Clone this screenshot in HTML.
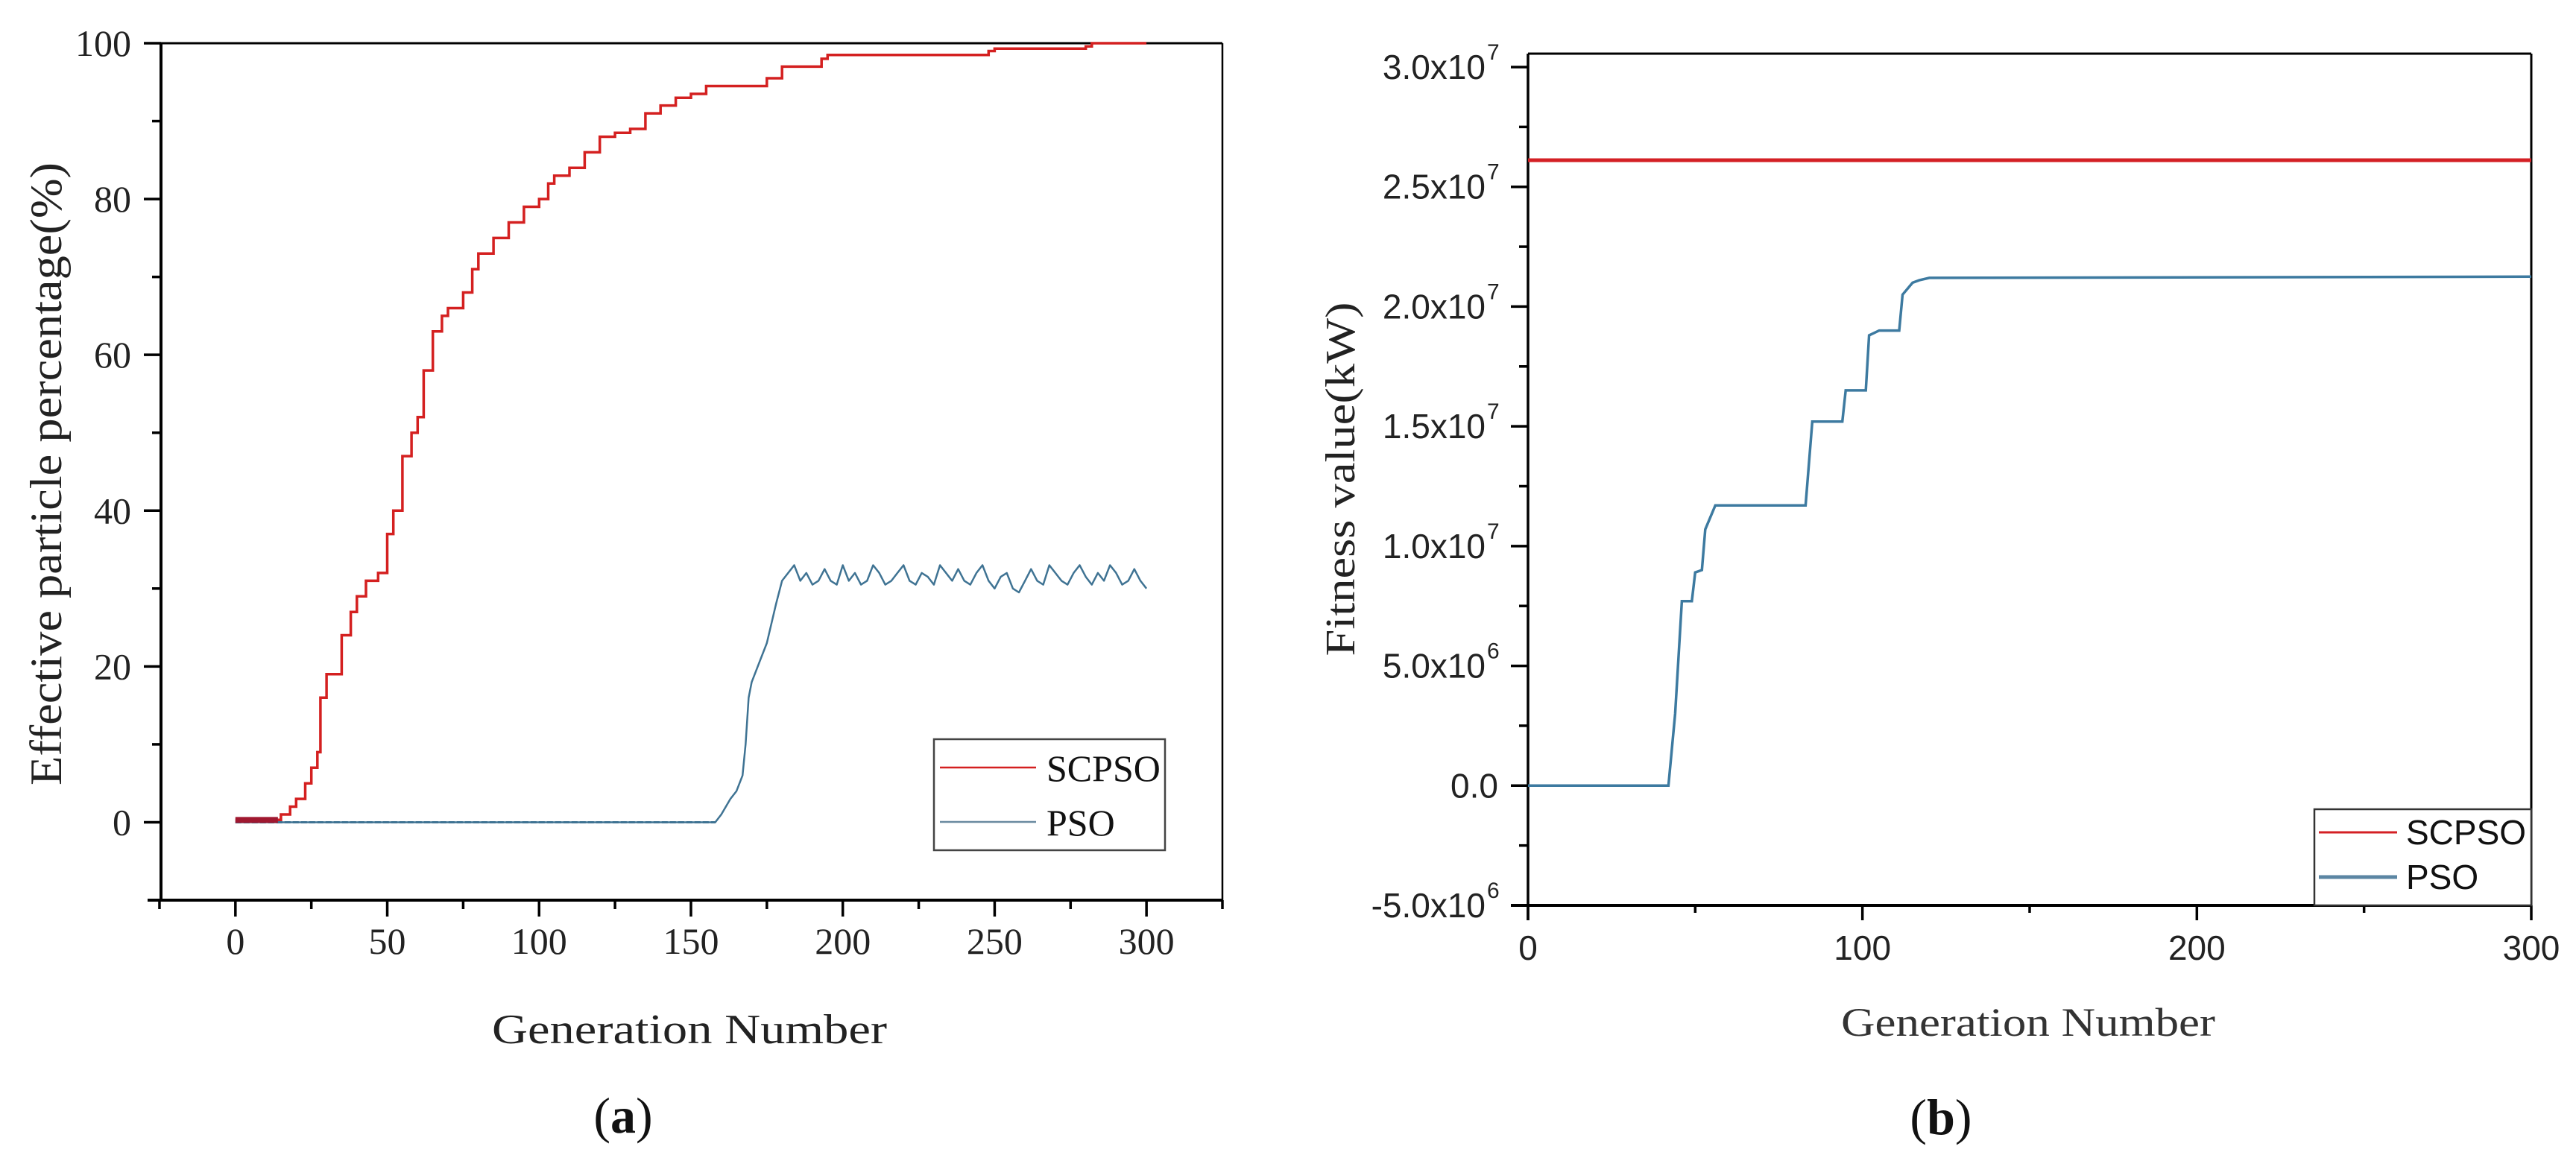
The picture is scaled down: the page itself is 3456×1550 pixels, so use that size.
<!DOCTYPE html>
<html><head><meta charset="utf-8"><style>
html,body{margin:0;padding:0;background:#fff;width:3456px;height:1550px;overflow:hidden}
svg{display:block}
.serif{font-family:"Liberation Serif",serif}
.sans{font-family:"Liberation Sans",sans-serif}
</style></head><body>
<svg id="fig" width="3456" height="1550" viewBox="0 0 3456 1550" xmlns="http://www.w3.org/2000/svg">
<g id="pa"></g>
<g id="pb"></g>
</svg>
<script>
// ---- Panel (a) data ----
const aTicksX = [0,50,100,150,200,250,300];
const aTicksY = [0,20,40,60,80,100];
const scGen = [0,14,15,18,20,23,25,27,28,30,33,35,38,40,43,45,47,50,52,55,58,60,62,65,68,70,75,78,80,85,90,95,100,103,105,110,115,120,125,130,135,140,145,150,155,170,175,180,188,193,195,240,248,250,280,282,300];
const scVal = [0.3,0.3,1,2,3,5,7,9,16,19,19,24,27,29,31,31,32,37,40,47,50,52,58,63,65,66,68,71,73,75,77,79,80,82,83,84,86,88,88.5,89,91,92,93,93.5,94.5,94.5,95.5,97,97,98,98.5,98.5,99,99.3,99.6,100,100];
const psoAGen = [0,158,160,163,165,167,168,169,170,172,175,178,180,182,184,186,188,190,192,194,196,198,200,202,204,206,208,210,212,214,216,218,220,222,224,226,228,230,232,234,236,238,240,242,244,246,248,250,252,254,256,258,260,262,264,266,268,270,272,274,276,278,280,282,284,286,288,290,292,294,296,298,300];
const psoAVal = [0,0,1,3,4,6,10,16,18,20,23,28,31,32,33,31,32,30.5,31,32.5,31,30.5,33,31,32,30.5,31,33,32,30.5,31,32,33,31,30.5,32,31.5,30.5,33,32,31,32.5,31,30.5,32,33,31,30,31.5,32,30,29.5,31,32.5,31,30.5,33,32,31,30.5,32,33,31.5,30.5,32,31,33,32,30.5,31,32.5,31,30];
// ---- Panel (b) data ----
const bTicksX = [0,100,200,300];
const bTicksY = [-5e6,0,5e6,1e7,1.5e7,2e7,2.5e7,3e7];
const bTickLabels = ["-5.0x10|6","0.0","5.0x10|6","1.0x10|7","1.5x10|7","2.0x10|7","2.5x10|7","3.0x10|7"];
const scBGen = [0,300];
const scBVal = [2.611e7,2.611e7];
const psoBGen = [0,42,44,46,49,50,52,53,56,83,85,94,95,101,102,105,111,112,115,117,120,300];
const psoBVal = [0,0,3e6,7.7e6,7.7e6,8.9e6,9e6,10.7e6,11.7e6,11.7e6,15.2e6,15.2e6,16.5e6,16.5e6,18.8e6,19e6,19e6,20.5e6,21e6,21.1e6,21.2e6,21.25e6];

const NS="http://www.w3.org/2000/svg";
function mk(parent,tag,attrs,text){const e=document.createElementNS(NS,tag);for(const k in attrs)e.setAttribute(k,attrs[k]);if(text!==undefined)e.textContent=text;parent.appendChild(e);return e;}

// ---------- Panel A ----------
(function(){
const g=document.getElementById('pa');
const L=216,R=1640,T=58,B=1208;
const xMin=-24.5,xMax=325,yMin=-10,yMax=100;
const xs=v=>L+(v-xMin)/(xMax-xMin)*(R-L);
const ys=v=>B-(v-yMin)/(yMax-yMin)*(B-T);
let e=mk(g,'line',{x1:L,y1:T,x2:R,y2:T,stroke:'#000','stroke-width':3});

e=mk(g,'line',{x1:R,y1:T,x2:R,y2:B,stroke:'#000','stroke-width':2.5});

e=mk(g,'line',{x1:L,y1:T,x2:L,y2:B,stroke:'#000','stroke-width':4});

e=mk(g,'line',{x1:L-18,y1:B,x2:R,y2:B,stroke:'#000','stroke-width':4});

for(let v=-10;v<=100;v+=10){
  const major=aTicksY.includes(v);
  e=mk(g,'line',{x1:L-(major?23:12),y1:ys(v),x2:L,y2:ys(v),stroke:'#000','stroke-width':3.5});
  
}
aTicksY.forEach(v=>{
  e=mk(g,'text',{x:176,y:ys(v)+17,'text-anchor':'end','font-size':50,class:'serif',fill:'#222'},String(v));
  
});
for(let v=-25;v<=325;v+=25){
  const major=aTicksX.includes(v);
  e=mk(g,'line',{x1:xs(v),y1:B,x2:xs(v),y2:B+(major?22:12),stroke:'#000','stroke-width':3.5});
  
}
aTicksX.forEach(v=>{
  e=mk(g,'text',{x:xs(v),y:1280,'text-anchor':'middle','font-size':50,class:'serif',fill:'#222'},String(v));
  
});
const ptsP=psoAGen.map((x,i)=>xs(x).toFixed(1)+','+ys(psoAVal[i]).toFixed(1)).join(' ');
e=mk(g,'polyline',{points:ptsP,fill:'none',stroke:'#3f7393','stroke-width':2.5,'stroke-linejoin':'round'});

e=mk(g,'polyline',{points:psoAGen.slice(0,2).map((x,i)=>xs(x)+','+ys(psoAVal[i])).join(' '),fill:'none',stroke:'#3f7393','stroke-width':3,'stroke-dasharray':'8 3'});

let pts='';
for(let i=0;i<scGen.length;i++){
  if(i>0)pts+=' '+xs(scGen[i]).toFixed(1)+','+ys(scVal[i-1]).toFixed(1);
  pts+=' '+xs(scGen[i]).toFixed(1)+','+ys(scVal[i]).toFixed(1);
}
e=mk(g,'polyline',{points:pts.trim(),fill:'none',stroke:'#d42020','stroke-width':3.5});

e=mk(g,'line',{x1:xs(0),y1:ys(scVal[0]),x2:xs(14),y2:ys(scVal[0]),stroke:'#a01830','stroke-width':8});

const lg=mk(g,'g',{});

mk(lg,'rect',{x:1253,y:992,width:310,height:149,fill:'#fff',stroke:'#444','stroke-width':2.5});
e=mk(lg,'line',{x1:1261,y1:1030,x2:1390,y2:1030,stroke:'#d42020','stroke-width':2.5});

e=mk(lg,'text',{x:1404,y:1048,'font-size':50,class:'serif',fill:'#111'},'SCPSO');

e=mk(lg,'line',{x1:1261,y1:1103,x2:1390,y2:1103,stroke:'#6a8aa0','stroke-width':2.5});

e=mk(lg,'text',{x:1404,y:1121,'font-size':50,class:'serif',fill:'#111'},'PSO');

e=mk(g,'text',{x:925,y:1400,'text-anchor':'middle','font-size':56,class:'serif',fill:'#222',textLength:530,lengthAdjust:'spacingAndGlyphs'},'Generation Number');

e=mk(g,'text',{x:0,y:0,'text-anchor':'middle','font-size':60,class:'serif',fill:'#222',transform:'translate(82,636) rotate(-90)',textLength:836,lengthAdjust:'spacingAndGlyphs'},'Effective particle percentage(%)');

e=mk(g,'text',{x:836,y:1520,'text-anchor':'middle','font-size':68,class:'serif',fill:'#111'},'');

mk(e,'tspan',{},'(');mk(e,'tspan',{'font-weight':'bold'},'a');mk(e,'tspan',{},')');
})();

// ---------- Panel B ----------
(function(){
const g=document.getElementById('pb');
const L=2050,R=3396,T=72,B=1215;
const xMin=0,xMax=300,yMin=-5e6,yMax=3.056e7;
const xs=v=>L+(v-xMin)/(xMax-xMin)*(R-L);
const ys=v=>B-(v-yMin)/(yMax-yMin)*(B-T);
let e=mk(g,'line',{x1:L,y1:T,x2:R,y2:T,stroke:'#000','stroke-width':3});

e=mk(g,'line',{x1:R,y1:T,x2:R,y2:B,stroke:'#000','stroke-width':3});

e=mk(g,'line',{x1:L,y1:T,x2:L,y2:B+20,stroke:'#000','stroke-width':3.5});

e=mk(g,'line',{x1:L-23,y1:B,x2:R,y2:B,stroke:'#000','stroke-width':4});

for(let v=-5e6;v<=3e7+1;v+=2.5e6){
  const major=Math.abs(v/5e6-Math.round(v/5e6))<1e-6;
  e=mk(g,'line',{x1:L-(major?23:12),y1:ys(v),x2:L,y2:ys(v),stroke:'#000','stroke-width':3.5});
  
}
bTicksY.forEach((v,i)=>{
  const parts=bTickLabels[i].split('|');
  e=mk(g,'text',{x:parts.length>1?1993:2010,y:ys(v)+16,'text-anchor':'end','font-size':46,class:'sans',fill:'#222'},parts[0]);
  
  if(parts.length>1){
    e=mk(g,'text',{x:1995,y:ys(v)-10,'font-size':30,class:'sans',fill:'#222'},parts[1]);
    
  }
});
for(let v=0;v<=300;v+=50){
  const major=bTicksX.includes(v);
  e=mk(g,'line',{x1:xs(v),y1:B,x2:xs(v),y2:B+(major?20:10),stroke:'#000','stroke-width':3.5});
  
}
bTicksX.forEach(v=>{
  e=mk(g,'text',{x:xs(v),y:1288,'text-anchor':'middle','font-size':46,class:'sans',fill:'#222'},String(v));
  
});
let pts='';
for(let i=0;i<psoBGen.length;i++)pts+=' '+xs(psoBGen[i]).toFixed(1)+','+ys(psoBVal[i]).toFixed(1);
e=mk(g,'polyline',{points:pts.trim(),fill:'none',stroke:'#3d7aa0','stroke-width':3.5});

e=mk(g,'polyline',{points:scBGen.map((x,i)=>xs(x)+','+ys(scBVal[i])).join(' '),fill:'none',stroke:'#d42025','stroke-width':5});

const lg=mk(g,'g',{});

mk(lg,'rect',{x:3105,y:1086,width:291,height:129,fill:'#fff',stroke:'#333','stroke-width':2.5});
e=mk(lg,'line',{x1:3111,y1:1117,x2:3216,y2:1117,stroke:'#d42025','stroke-width':3});

e=mk(lg,'text',{x:3228,y:1133,'font-size':46,class:'sans',fill:'#111'},'SCPSO');

e=mk(lg,'line',{x1:3111,y1:1177,x2:3216,y2:1177,stroke:'#5b86a3','stroke-width':5});

e=mk(lg,'text',{x:3228,y:1193,'font-size':46,class:'sans',fill:'#111'},'PSO');

e=mk(g,'text',{x:2721,y:1390,'text-anchor':'middle','font-size':54,class:'serif',fill:'#333',textLength:502,lengthAdjust:'spacingAndGlyphs'},'Generation Number');

e=mk(g,'text',{x:0,y:0,'text-anchor':'middle','font-size':56,class:'serif',fill:'#222',transform:'translate(1817,643) rotate(-90)',textLength:475,lengthAdjust:'spacingAndGlyphs'},'Fitness value(kW)');

e=mk(g,'text',{x:2604,y:1522,'text-anchor':'middle','font-size':68,class:'serif',fill:'#111'},'');

mk(e,'tspan',{},'(');mk(e,'tspan',{'font-weight':'bold'},'b');mk(e,'tspan',{},')');
})();
</script>
</body></html>
